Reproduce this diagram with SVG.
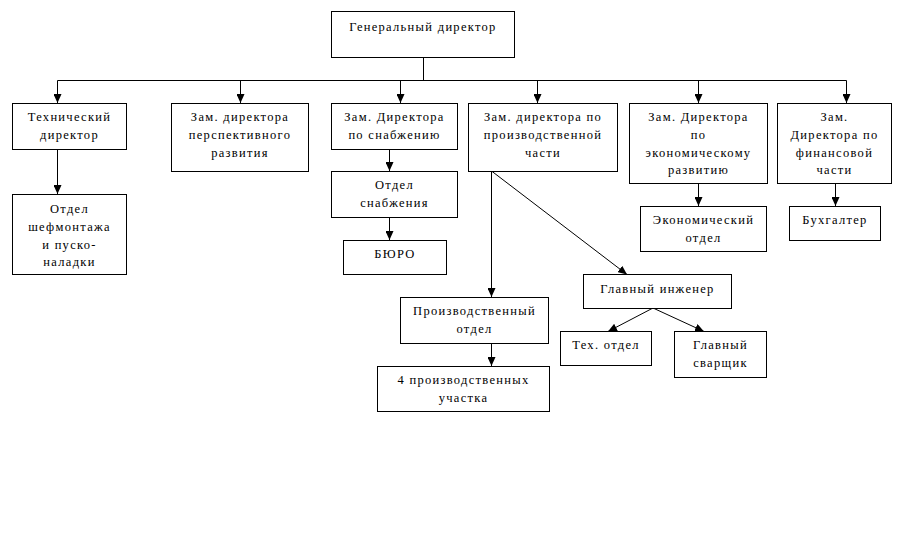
<svg xmlns="http://www.w3.org/2000/svg" width="915" height="549" viewBox="0 0 915 549">
<defs>
<marker id="a" markerWidth="9" markerHeight="8" refX="9" refY="4" orient="auto" markerUnits="userSpaceOnUse" viewBox="0 0 9 8">
<path d="M0,0 L9,4 L0,8 Z" fill="#000" stroke="none"/>
</marker>
<style>
rect{fill:#fff;stroke:#000;stroke-width:1}
text{font-family:"Liberation Serif","Times New Roman",serif;font-size:12.5px;letter-spacing:1.3px;text-anchor:middle;fill:#000}
.c line,.c path{stroke:#000;stroke-width:1;fill:none}
</style>
</defs>
<rect x="0" y="0" width="915" height="549" style="fill:#fff;stroke:none"/>
<g class="c" id="connectors">
<path d="M423.5,57 V80.5 M57.5,80.5 H846.5"/>
<line x1="57.5" y1="80.5" x2="57.5" y2="103" marker-end="url(#a)"/>
<line x1="240.5" y1="80.5" x2="240.5" y2="103" marker-end="url(#a)"/>
<line x1="400.5" y1="80.5" x2="400.5" y2="103" marker-end="url(#a)"/>
<line x1="537.5" y1="80.5" x2="537.5" y2="103" marker-end="url(#a)"/>
<line x1="698.5" y1="80.5" x2="698.5" y2="103" marker-end="url(#a)"/>
<line x1="846.5" y1="80.5" x2="846.5" y2="103" marker-end="url(#a)"/>
<line x1="57.5" y1="149" x2="57.5" y2="194" marker-end="url(#a)"/>
<line x1="389.5" y1="149" x2="389.5" y2="171" marker-end="url(#a)"/>
<line x1="389.5" y1="217" x2="389.5" y2="240" marker-end="url(#a)"/>
<line x1="698.5" y1="183" x2="698.5" y2="206" marker-end="url(#a)"/>
<line x1="835.5" y1="183" x2="835.5" y2="206" marker-end="url(#a)"/>
<line x1="491.5" y1="171" x2="491.5" y2="297" marker-end="url(#a)"/>
<line x1="491.5" y1="171" x2="627" y2="274.5" marker-end="url(#a)"/>
<line x1="491.5" y1="343" x2="491.5" y2="366" marker-end="url(#a)"/>
<line x1="653" y1="308" x2="608" y2="331.5" marker-end="url(#a)"/>
<line x1="653" y1="308" x2="704" y2="331.5" marker-end="url(#a)"/>
</g>
<g id="n-gen"><rect x="331.5" y="11.5" width="183" height="46"/><text x="423" y="31">Генеральный директор</text></g>
<g id="n-tech"><rect x="12.5" y="103.5" width="114" height="46"/><text x="69.5" y="121">Технический</text><text x="69.5" y="139">директор</text></g>
<g id="n-persp"><rect x="171.5" y="103.5" width="137" height="68"/><text x="240" y="121">Зам. директора</text><text x="240" y="139">перспективного</text><text x="240" y="157">развития</text></g>
<g id="n-snab"><rect x="331.5" y="103.5" width="126" height="46"/><text x="394.5" y="121">Зам. Директора</text><text x="394.5" y="139">по снабжению</text></g>
<g id="n-proizv"><rect x="468.5" y="103.5" width="149" height="68"/><text x="543" y="121">Зам. директора по</text><text x="543" y="139">производственной</text><text x="543" y="157">части</text></g>
<g id="n-econ"><rect x="629.5" y="103.5" width="138" height="80"/><text x="698.5" y="121">Зам. Директора</text><text x="698.5" y="139">по</text><text x="698.5" y="156.5">экономическому</text><text x="698.5" y="174">развитию</text></g>
<g id="n-fin"><rect x="777.5" y="103.5" width="114" height="80"/><text x="834.5" y="121">Зам.</text><text x="834.5" y="139">Директора по</text><text x="834.5" y="156.5">финансовой</text><text x="834.5" y="174">части</text></g>
<g id="n-shef"><rect x="12.5" y="194.5" width="114" height="80"/><text x="69.5" y="213">Отдел</text><text x="69.5" y="231">шефмонтажа</text><text x="69.5" y="249">и пуско-</text><text x="69.5" y="266">наладки</text></g>
<g id="n-otdsnab"><rect x="331.5" y="171.5" width="126" height="46"/><text x="394.5" y="189">Отдел</text><text x="394.5" y="207">снабжения</text></g>
<g id="n-buro"><rect x="343.5" y="240.5" width="103" height="34"/><text x="395" y="258">БЮРО</text></g>
<g id="n-econotd"><rect x="640.5" y="206.5" width="126" height="45"/><text x="703.5" y="224">Экономический</text><text x="703.5" y="242">отдел</text></g>
<g id="n-buh"><rect x="789.5" y="206.5" width="91" height="34"/><text x="835" y="224">Бухгалтер</text></g>
<g id="n-prodotd"><rect x="400.5" y="297.5" width="148" height="46"/><text x="474.5" y="315">Производственный</text><text x="474.5" y="333">отдел</text></g>
<g id="n-uch"><rect x="377.5" y="366.5" width="172" height="45"/><text x="463.5" y="384">4 производственных</text><text x="463.5" y="402">участка</text></g>
<g id="n-gling"><rect x="583.5" y="274.5" width="148" height="34"/><text x="657.5" y="293">Главный инженер</text></g>
<g id="n-tehotd"><rect x="560.5" y="331.5" width="91" height="34"/><text x="606" y="349">Тех. отдел</text></g>
<g id="n-svar"><rect x="674.5" y="331.5" width="92" height="46"/><text x="720.5" y="349">Главный</text><text x="720.5" y="367">сварщик</text></g>
</svg>
